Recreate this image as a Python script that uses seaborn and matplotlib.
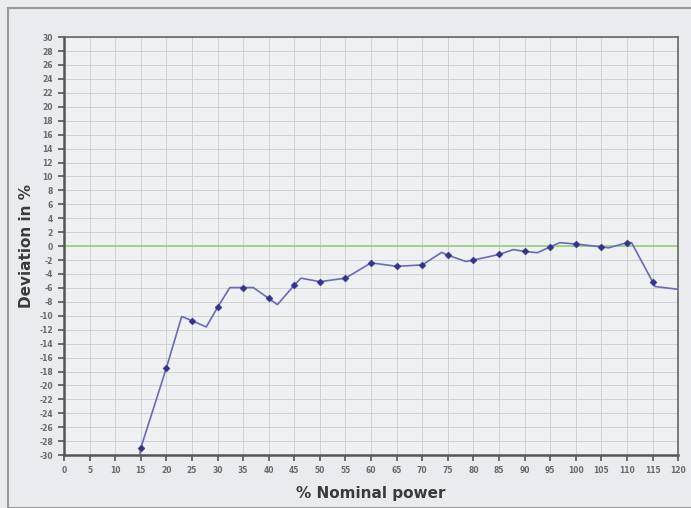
import numpy as np
import pandas as pd
import matplotlib
matplotlib.use("Agg")
import matplotlib.pyplot as plt
import seaborn as sns

# Polyline vertices
line_x = [14.8, 15, 20, 23, 25, 27.8, 30, 32.4, 35, 37, 40, 41.7, 45, 46.3, 50, 55, 60, 65, 70,
          73.8, 75, 78.5, 80, 85, 87.8, 90, 92.5, 95, 96.9, 100, 105, 106.4, 110, 110.9, 115, 115.5, 120]
line_y = [-30, -29, -17.5, -10.1, -10.7, -11.6, -8.8, -5.95, -5.95, -5.95, -7.5, -8.4, -5.6, -4.6, -5.1,
          -4.6, -2.4, -2.9, -2.7, -0.9, -1.3, -2.2, -2.0, -1.2, -0.5, -0.75, -0.95, -0.1, 0.5, 0.3,
          -0.1, -0.25, 0.5, 0.5, -5.1, -5.8, -6.2]

# Measured points (markers)
meas_x = [15, 20, 25, 30, 35, 40, 45, 50, 55, 60, 65, 70, 75, 80, 85, 90, 95, 100, 105, 110, 115]
meas_y = [-29, -17.5, -10.7, -8.8, -5.95, -7.5, -5.6, -5.1, -4.6, -2.4, -2.9, -2.7, -1.3, -2.0,
          -1.2, -0.75, -0.1, 0.3, -0.1, 0.5, -5.1]

x_ticks = list(range(0, 121, 5))
y_ticks = list(range(-30, 31, 2))

sns.set_theme(style="white")
plt.rcParams["font.family"] = ["DejaVu Sans"]

fig = plt.figure(figsize=(6.91, 5.08), dpi=100, facecolor="#e9ebee")
ax = fig.add_axes([0.0926, 0.104, 0.8888, 0.823])
ax.set_facecolor("#eef0f2")

# scan border
fig.patches.append(plt.Rectangle((0.012, 0.0), 0.99, 0.985, transform=fig.transFigure,
                                 fill=False, edgecolor="#9a9a9a", linewidth=1.5))

ax.set_xlim(0, 120)
ax.set_ylim(-30, 30)
ax.set_xticks(x_ticks)
ax.set_yticks(y_ticks)
ax.set_xticklabels([str(t) for t in x_ticks], fontsize=5.5, color="#6a6a6a", fontweight="bold")
ax.set_yticklabels([str(t) for t in y_ticks], fontsize=5.5, color="#6a6a6a", fontweight="bold")
ax.grid(True, color="#c9cbcd", linewidth=0.6)
ax.set_axisbelow(True)
ax.tick_params(axis="both", direction="out", length=4, width=1.2, color="#555555", pad=4,
               bottom=True, left=True)

for side in ["left", "bottom"]:
    ax.spines[side].set_color("#555555")
    ax.spines[side].set_linewidth(1.8)
for side in ["top", "right"]:
    ax.spines[side].set_color("#666666")
    ax.spines[side].set_linewidth(1.2)

ax.axhline(0, color="#9ccc7a", linewidth=1.2, zorder=2)

line_df = pd.DataFrame({"x": line_x, "y": line_y})
meas_df = pd.DataFrame({"x": meas_x, "y": meas_y})
sns.lineplot(data=line_df, x="x", y="y", sort=False, estimator=None, color="#6a6ab8",
             linewidth=1.2, ax=ax, zorder=3)
sns.scatterplot(data=meas_df, x="x", y="y", marker="D", s=13, color="#34348c",
                edgecolor="#34348c", ax=ax, zorder=4)

ax.set_xlabel("% Nominal power", fontsize=11, fontweight="bold", color="#3a3a3a", labelpad=8)
ax.set_ylabel("Deviation in %", fontsize=11, fontweight="bold", color="#3a3a3a", labelpad=4)

fig.savefig("out.png", dpi=100, facecolor=fig.get_facecolor())
